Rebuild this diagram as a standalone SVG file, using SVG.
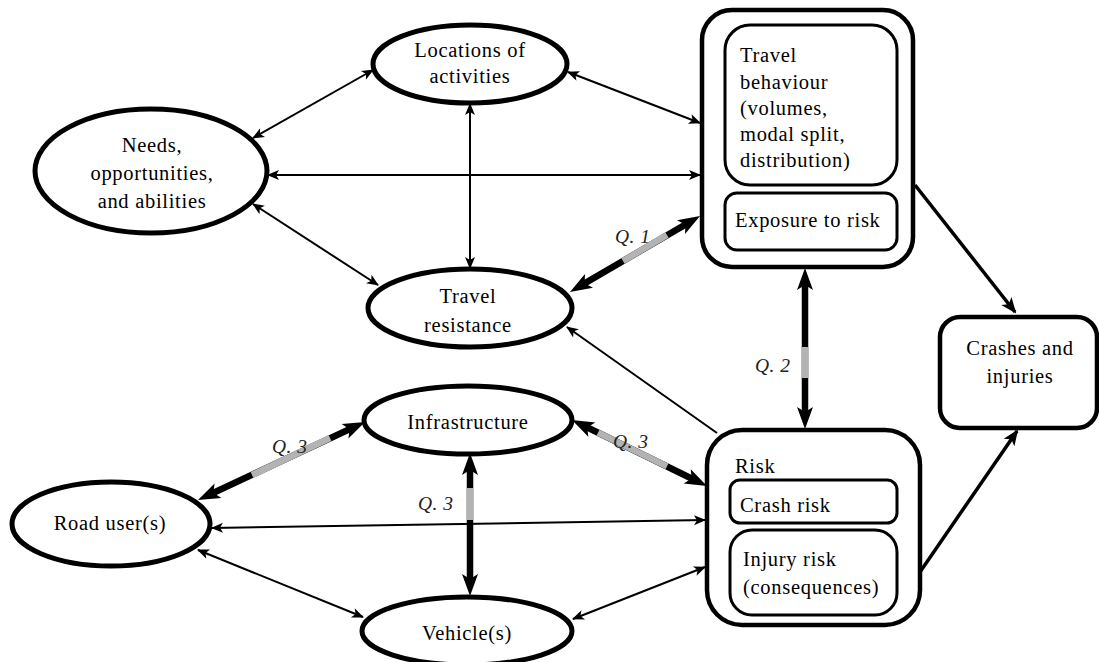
<svg xmlns="http://www.w3.org/2000/svg" width="1099" height="662" viewBox="0 0 1099 662">
  <style>
    .node { fill: #fff; stroke: #000; }
    .ell { stroke-width: 5; }
    .outer { stroke-width: 4.5; }
    .inner { stroke-width: 3; }
    text { font-family: "Liberation Serif", "Times New Roman", serif; font-size: 20.5px; fill: #000; letter-spacing: 0.7px; }
    .c { text-anchor: middle; }
    .q { font-style: italic; fill: #222; font-size: 19.5px; letter-spacing: 0.5px; }
    .thin { stroke: #000; stroke-width: 2; fill: none; }
    .mid { stroke: #000; stroke-width: 3.5; fill: none; }
    .thick { stroke: #000; stroke-width: 6.5; fill: none; }
    .grey { stroke: #b3b3b3; stroke-width: 6.5; fill: none; }
  </style>
  <defs>
    <marker id="ah" markerUnits="userSpaceOnUse" markerWidth="14" markerHeight="12" refX="11" refY="5" orient="auto-start-reverse" overflow="visible">
      <path d="M0,0 L12,5 L0,10 L3,5 z" fill="#000"/>
    </marker>
    <marker id="ahm" markerUnits="userSpaceOnUse" markerWidth="18" markerHeight="14" refX="14" refY="6.5" orient="auto-start-reverse" overflow="visible">
      <path d="M0,0 L16,6.5 L0,13 L4,6.5 z" fill="#000"/>
    </marker>
    <marker id="ahb" markerUnits="userSpaceOnUse" markerWidth="24" markerHeight="18" refX="6" refY="8" orient="auto-start-reverse" overflow="visible">
      <path d="M0,0 L22,8 L0,16 L5,8 z" fill="#000"/>
    </marker>
  </defs>

  <!-- connectors -->
  <g id="connectors">
    <line class="thin" x1="373" y1="70" x2="253" y2="138" marker-start="url(#ah)" marker-end="url(#ah)"/>
    <line class="thin" x1="568" y1="72" x2="700" y2="123" marker-start="url(#ah)" marker-end="url(#ah)"/>
    <line class="thin" x1="268" y1="175" x2="700" y2="175" marker-start="url(#ah)" marker-end="url(#ah)"/>
    <line class="thin" x1="253" y1="204" x2="378" y2="285" marker-start="url(#ah)" marker-end="url(#ah)"/>
    <line class="thin" x1="470" y1="104" x2="470" y2="268" marker-start="url(#ah)" marker-end="url(#ah)"/>
    <line class="thin" x1="717" y1="433" x2="567" y2="327" marker-end="url(#ah)"/>
    <line class="thin" x1="212" y1="528" x2="705" y2="520" marker-start="url(#ah)" marker-end="url(#ah)"/>
    <line class="thin" x1="198" y1="550" x2="363" y2="617" marker-start="url(#ah)" marker-end="url(#ah)"/>
    <line class="thin" x1="573" y1="619" x2="705" y2="567" marker-start="url(#ah)" marker-end="url(#ah)"/>
    <line class="mid" x1="915" y1="185" x2="1015" y2="312" marker-end="url(#ahm)"/>
    <line class="mid" x1="920" y1="572" x2="1017" y2="431" marker-end="url(#ahm)"/>

    <!-- Q. 1 -->
    <line class="thick" x1="583.8" y1="283.9" x2="686.2" y2="224.1" marker-start="url(#ahb)" marker-end="url(#ahb)"/>
    <line class="grey" x1="623" y1="261" x2="667" y2="235"/>
    <!-- Q. 2 -->
    <line class="thick" x1="805" y1="284" x2="805" y2="413" marker-start="url(#ahb)" marker-end="url(#ahb)"/>
    <line class="grey" x1="805" y1="347" x2="805" y2="378"/>
    <!-- Q. 3 road user / infrastructure -->
    <line class="thick" x1="212.5" y1="493.2" x2="350.5" y2="428.8" marker-start="url(#ahb)" marker-end="url(#ahb)"/>
    <line class="grey" x1="252" y1="475" x2="330" y2="438"/>
    <!-- Q. 3 infrastructure / risk -->
    <line class="thick" x1="586.4" y1="427" x2="692.6" y2="479" marker-start="url(#ahb)" marker-end="url(#ahb)"/>
    <line class="grey" x1="598" y1="432.7" x2="667" y2="466.4"/>
    <!-- Q. 3 infrastructure / vehicle -->
    <line class="thick" x1="470" y1="469" x2="470" y2="580" marker-start="url(#ahb)" marker-end="url(#ahb)"/>
    <line class="grey" x1="470" y1="488" x2="470" y2="520"/>

    <text class="q" x="615" y="243">Q. 1</text>
    <text class="q" x="755" y="372">Q. 2</text>
    <text class="q" x="272" y="453">Q. 3</text>
    <text class="q" x="613" y="448">Q. 3</text>
    <text class="q" x="418" y="510">Q. 3</text>
  </g>

  <!-- nodes -->
  <g id="locations">
    <ellipse class="node ell" cx="470" cy="64" rx="97" ry="39"/>
    <text class="c" x="470" y="57">Locations of</text>
    <text class="c" x="470" y="83">activities</text>
  </g>
  <g id="needs">
    <ellipse class="node ell" cx="151" cy="171" rx="116" ry="62"/>
    <text class="c" x="152" y="152">Needs,</text>
    <text class="c" x="152" y="180">opportunities,</text>
    <text class="c" x="152" y="208">and abilities</text>
  </g>
  <g id="travel-resistance">
    <ellipse class="node ell" cx="470" cy="308" rx="102" ry="39"/>
    <text class="c" x="468" y="303">Travel</text>
    <text class="c" x="468" y="332">resistance</text>
  </g>
  <g id="infrastructure">
    <ellipse class="node ell" cx="468" cy="420" rx="104" ry="34"/>
    <text class="c" x="468" y="429">Infrastructure</text>
  </g>
  <g id="road-users">
    <ellipse class="node ell" cx="111" cy="524" rx="99" ry="42"/>
    <text class="c" x="110" y="530">Road user(s)</text>
  </g>
  <g id="vehicles">
    <ellipse class="node ell" cx="467" cy="631" rx="105" ry="34"/>
    <text class="c" x="467" y="640">Vehicle(s)</text>
  </g>
  <g id="travel-behaviour">
    <rect class="node outer" x="702" y="10" width="211" height="257" rx="30"/>
    <rect class="node inner" x="725" y="25" width="172" height="160" rx="25"/>
    <rect class="node inner" x="725" y="193" width="172" height="57" rx="12"/>
    <text x="740" y="62">Travel</text>
    <text x="740" y="88.5">behaviour</text>
    <text x="740" y="115">(volumes,</text>
    <text x="740" y="141">modal split,</text>
    <text x="740" y="167">distribution)</text>
    <text x="735" y="227">Exposure to risk</text>
  </g>
  <g id="risk">
    <rect class="node outer" x="707" y="430" width="213" height="195" rx="35"/>
    <text x="735" y="473">Risk</text>
    <rect class="node inner" x="730" y="480" width="167" height="43" rx="10"/>
    <text x="740" y="512">Crash risk</text>
    <rect class="node inner" x="730" y="530" width="167" height="85" rx="22"/>
    <text x="743" y="566">Injury risk</text>
    <text x="743" y="594">(consequences)</text>
  </g>
  <g id="crashes">
    <rect class="node outer" x="940" y="317" width="157" height="111" rx="20"/>
    <text class="c" x="1020" y="355">Crashes and</text>
    <text class="c" x="1020" y="383">injuries</text>
  </g>
</svg>
